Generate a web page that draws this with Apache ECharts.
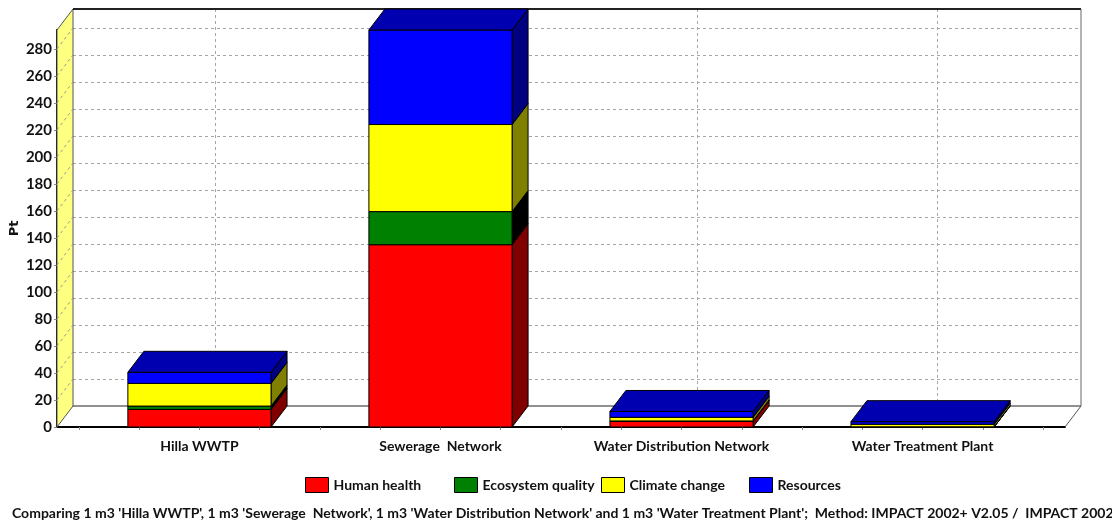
<!DOCTYPE html>
<html>
<head>
<meta charset="utf-8">
<style>html,body{margin:0;padding:0;background:#fff}#chart{width:1112px;height:523px}</style>
<script src="https://cdn.jsdelivr.net/npm/echarts@6/dist/echarts.min.js"></script>
</head>
<body>
<div id="chart"></div>
<script>
// Damage scores in Pt per scenario and impact category
const categories = ['Hilla WWTP', 'Sewerage  Network', 'Water Distribution Network', 'Water Treatment Plant'];
const humanHealth = [13, 135, 4.2, 0.1];
const ecosystemQuality = [2.5, 24.5, 0.3, 0.05];
const climateChange = [16.8, 64.5, 2.7, 1.9];
const resources = [8.2, 70, 4.3, 1.9];
const yTicks = [0, 20, 40, 60, 80, 100, 120, 140, 160, 180, 200, 220, 240, 260, 280];
const xTicks = [-0.5, -0.25, 0, 0.25, 0.5, 0.75, 1, 1.25, 1.5, 1.75, 2, 2.25, 2.5, 2.75, 3, 3.25, 3.5];
const captionText = "Comparing 1 m3 'Hilla WWTP', 1 m3 'Sewerage  Network', 1 m3 'Water Distribution Network' and 1 m3 'Water Treatment Plant';  Method: IMPACT 2002+ V2.05 /  IMPACT 2002";

const layers = [
  { name: 'Human health', values: humanHealth, face: '#ff0000', side: '#800000', legendLeft: 305 },
  { name: 'Ecosystem quality', values: ecosystemQuality, face: '#008000', side: '#000000', legendLeft: 454 },
  { name: 'Climate change', values: climateChange, face: '#ffff00', side: '#808000', legendLeft: 601 },
  { name: 'Resources', values: resources, face: '#0000ff', side: '#000080', legendLeft: 749 }
];

const FONT = 'Lato, sans-serif';
const TEXT = '#111111';
const DEPTH_X = 16, DEPTH_Y = -21;
const X_MIN = -0.591, X_MAX = 3.591, Y_MAX = 294;
const BAR_HALF = 0.297;
const TOP_FACE = '#0000b0';

function poly(points, fill, stroke) {
  return { type: 'polygon', shape: { points }, style: { fill, stroke: stroke || '#000', lineWidth: 1 } };
}
function line(a, b, stroke, lineWidth, lineDash) {
  return { type: 'line', shape: { x1: a[0], y1: a[1], x2: b[0], y2: b[1] }, style: { stroke, lineWidth, lineDash: lineDash || null, fill: null } };
}
const back = p => [p[0] + DEPTH_X, p[1] + DEPTH_Y];

// Left wall, floor and rear frame of the box, placed by the front axes
function renderBox(params, api) {
  const fl = api.coord([X_MIN, 0]), tl = api.coord([X_MIN, Y_MAX]), fr = api.coord([X_MAX, 0]), tr = api.coord([X_MAX, Y_MAX]);
  const children = [
    poly([fl, tl, back(tl), back(fl)], '#ffff80', '#555'),
    line(back(fl), back(fr), '#222', 1.2),
    line(back(tl), back(tr), '#222', 2),
    line(back(tr), back(fr), '#666', 1),
    line(fr, back(fr), '#555', 1)
  ];
  yTicks.slice(1).forEach(v => {
    const p = api.coord([X_MIN, v]);
    children.push(line(p, back(p), '#999', 1, [3, 3]));
  });
  return { type: 'group', children };
}

// One stacked block: front face, right side, and a top face on the last layer
function renderBlock(params, api) {
  const layer = layers[params.seriesIndex - 1];
  const x = api.value(0), y0 = api.value(1), y1 = api.value(2);
  const a = api.coord([x - BAR_HALF, y0]), b = api.coord([x + BAR_HALF, y0]);
  const c = api.coord([x + BAR_HALF, y1]), d = api.coord([x - BAR_HALF, y1]);
  const children = [
    poly([b, c, back(c), back(b)], layer.side),
    poly([a, b, c, d], layer.face)
  ];
  if (params.seriesIndex === layers.length) {
    children.push(poly([d, c, back(c), back(d)], TOP_FACE));
  }
  return { type: 'group', children };
}

const running = categories.map(() => 0);
const blockSeries = layers.map(layer => ({
  name: layer.name,
  type: 'custom',
  xAxisIndex: 0,
  yAxisIndex: 0,
  z: 3,
  itemStyle: { color: layer.face, borderColor: '#000', borderWidth: 1 },
  encode: { x: 0, y: [1, 2] },
  renderItem: renderBlock,
  data: layer.values.map((v, i) => {
    const row = [i, running[i], running[i] + v];
    running[i] += v;
    return row;
  })
}));

const dashedGrid = { show: true, lineStyle: { color: '#a6a6a6', width: 1, type: [3, 3] } };

const option = {
  animation: false,
  backgroundColor: '#fff',
  title: {
    text: captionText,
    left: 12,
    top: 506,
    padding: 0,
    textStyle: { fontFamily: FONT, fontSize: 14, fontWeight: 'bold', color: TEXT }
  },
  legend: layers.map(l => ({
    data: [l.name],
    left: l.legendLeft,
    top: 477,
    padding: 0,
    itemWidth: 23,
    itemHeight: 15,
    selectedMode: false,
    icon: 'rect',
    itemStyle: { borderColor: '#000', borderWidth: 1 },
    textStyle: { fontFamily: FONT, fontSize: 14, fontWeight: 'bold', color: TEXT }
  })),
  grid: [
    { left: 57, right: 47, top: 30, bottom: 96, outerBoundsMode: 'none' },
    { left: 73, right: 32, top: 9, bottom: 117, outerBoundsMode: 'none' }
  ],
  xAxis: [
    {
      gridIndex: 0, type: 'value', min: X_MIN, max: X_MAX,
      splitLine: { show: false },
      axisLine: { show: true, onZero: false, lineStyle: { color: '#000', width: 2 } },
      axisTick: { show: true, length: 3, customValues: xTicks, lineStyle: { color: '#888' } },
      axisLabel: {
        customValues: [0, 1, 2, 3],
        formatter: v => categories[Math.round(v)],
        margin: 12, fontFamily: FONT, fontSize: 14, fontWeight: 'bold', color: TEXT,
        showMinLabel: true, showMaxLabel: true, hideOverlap: false
      }
    },
    {
      gridIndex: 1, type: 'value', min: X_MIN, max: X_MAX,
      axisLine: { show: false },
      axisTick: { show: false, customValues: [0, 1, 2, 3] },
      axisLabel: { show: false },
      splitLine: dashedGrid
    }
  ],
  yAxis: [
    {
      gridIndex: 0, type: 'value', min: 0, max: Y_MAX,
      name: 'Pt', nameLocation: 'middle', nameGap: 36, nameRotate: 90, nameMoveOverlap: false,
      nameTextStyle: { fontFamily: '"DejaVu Sans", sans-serif', fontSize: 13, fontWeight: 'bold', color: TEXT },
      splitLine: { show: false },
      axisLine: { show: true, onZero: false, lineStyle: { color: '#000', width: 2 } },
      axisTick: { show: true, length: 3, customValues: yTicks, lineStyle: { color: '#888' } },
      axisLabel: {
        customValues: yTicks,
        margin: 5, fontFamily: FONT, fontSize: 15, fontWeight: 'bold', color: TEXT
      }
    },
    {
      gridIndex: 1, type: 'value', min: 0, max: Y_MAX,
      axisLine: { show: false, onZero: false },
      axisTick: { show: false, customValues: yTicks.slice(1) },
      axisLabel: { show: false },
      splitLine: dashedGrid
    }
  ],
  series: [
    {
      name: 'box', type: 'custom', xAxisIndex: 0, yAxisIndex: 0, z: 1,
      encode: { x: 0, y: 1 }, renderItem: renderBox, silent: true, data: [[0, 0]]
    }
  ].concat(blockSeries)
};

const chart = echarts.init(document.getElementById('chart'), null, { renderer: 'canvas' });
chart.setOption(option);
</script>
</body>
</html>
